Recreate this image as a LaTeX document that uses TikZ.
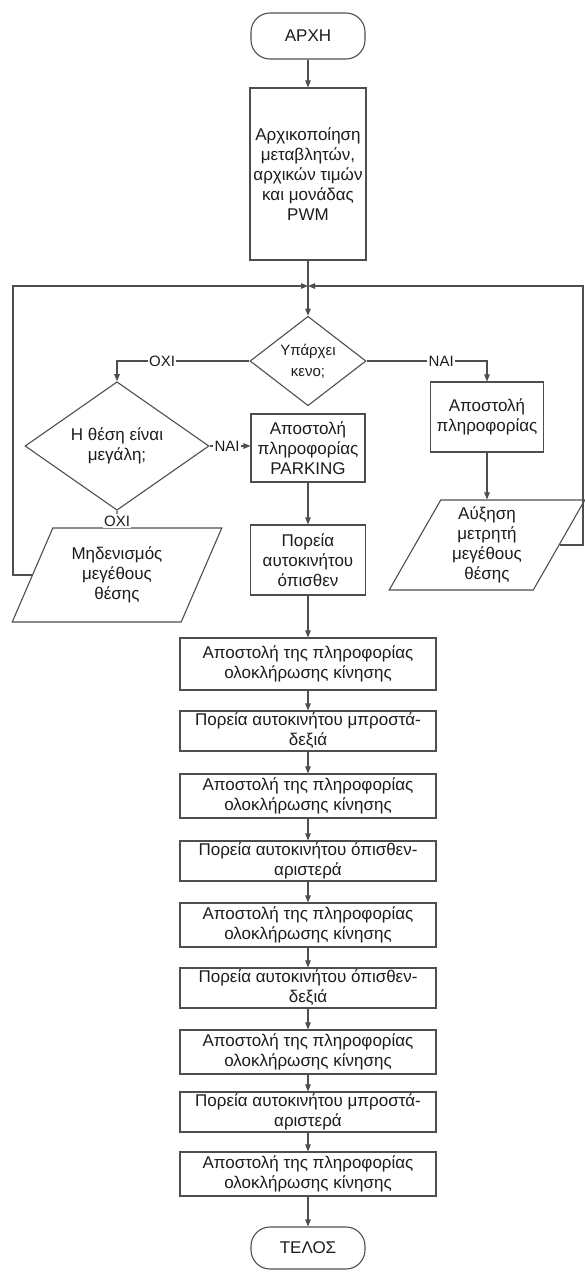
\documentclass[tikz,border=0pt]{standalone}
\usepackage{fontspec}
\setmainfont{Liberation Sans}
\usepackage{xcolor}
\usepackage{tikz}
\usetikzlibrary{arrows.meta,shapes.geometric}
\definecolor{fcline}{HTML}{4E4E4E}
\definecolor{fctext}{HTML}{1C1C1C}
\newcommand{\donetxt}{Αποστολή της πληροφορίας\\ολοκλήρωσης κίνησης}

\begin{document}
\begin{tikzpicture}[x=1pt, y=-1pt, line width=1.1pt,
    every node/.style={text=fctext, inner sep=0pt, align=center,
      font=\fontsize{17}{20}\selectfont},
    terminal/.style={draw=fcline, rounded corners=19pt, minimum width=114pt, minimum height=#1pt},
    procbox/.style 2 args={draw=fcline, minimum width=#1pt, minimum height=#2pt},
    decision/.style 2 args={draw=fcline, diamond, minimum width=#1pt, minimum height=#2pt},
    iobox/.style 2 args={draw=fcline, trapezium, trapezium left angle=63,
      trapezium right angle=117, trapezium stretches=true,
      minimum width=#1pt, minimum height=#2pt},
    flow/.style={draw=fcline, -{Triangle[length=7pt, width=5.5pt]}},
    wire/.style={draw=fcline},
    answer/.style={fill=white, inner sep=1.5pt, font=\fontsize{15}{17}\selectfont}]

  \useasboundingbox (0,0) rectangle (585,1272);

  % -- start and set-up ----------------------------------------------------
  \node[terminal=46] (start) at (308,36) {ΑΡΧΗ};
  \node[procbox={116}{172}] (init) at (308,174)
    {Αρχικοποίηση\\μεταβλητών,\\αρχικών τιμών\\και μονάδας\\PWM};
  \coordinate (merge)   at (308,286);
  \coordinate (lcorner) at (13,286);
  \coordinate (rcorner) at (583,286);

  % -- looking for a gap ---------------------------------------------------
  \node[decision={116}{72}, font=\fontsize{15}{21}\selectfont] (gap) at (308,361)
    {Υπάρχει\\κενο;};
  \node[decision={184}{108}] (big) at (117,446) {Η θέση είναι\\μεγάλη;};
  \node[procbox={114}{68}] (park) at (308,448) {Αποστολή\\πληροφορίας\\PARKING};
  \node[procbox={115}{70}] (back) at (308,560) {Πορεία\\αυτοκινήτου\\όπισθεν};
  \node[iobox={210}{94}] (reset) at (117,575) {Μηδενισμός\\μεγέθους\\θέσης};
  \node[procbox={113}{70}] (info) at (487,417) {Αποστολή\\πληροφορίας};
  \node[iobox={196}{90}] (count) at (487,545) {Αύξηση\\μετρητή\\μεγέθους\\θέσης};

  % -- the manoeuvre, one box per step --------------------------------------
  \foreach \nm/\yy/\hh/\txt in {
      done1/664/52/{\donetxt},
      fwdr/731/40/{Πορεία αυτοκινήτου μπροστά-\\δεξιά},
      done2/796/44/{\donetxt},
      backl/861/40/{Πορεία αυτοκινήτου όπισθεν-\\αριστερά},
      done3/925/44/{\donetxt},
      backr/988/40/{Πορεία αυτοκινήτου όπισθεν-\\δεξιά},
      done4/1052/44/{\donetxt},
      fwdl/1112/40/{Πορεία αυτοκινήτου μπροστά-\\αριστερά},
      done5/1174/44/{\donetxt}}{
    \node[procbox={256}{\hh}] (\nm) at (308,\yy) {\txt};}
  \node[terminal=42] (stop) at (308,1248) {ΤΕΛΟΣ};

  % -- connectors -----------------------------------------------------------
  \draw[flow] (start) -- (init);
  \draw[wire] (init) -- (merge);
  \draw[flow] (merge) -- (gap);
  \draw[flow] (gap.west) -| node[answer, pos=0.33] {ΟΧΙ} (big.north);
  \draw[flow] (gap.east) -| node[answer, pos=0.31] {ΝΑΙ} (info.north);
  \draw[flow] (big.east) -- node[answer, pos=0.43] {ΝΑΙ} (park.west |- big.east);
  \draw[flow] (big.south) -- node[answer, pos=0.62] {ΟΧΙ} (reset.north);
  \draw[flow] (park) -- (back);
  \draw[flow] (info) -- (count);
  \draw[flow] (reset.west) -| (lcorner) -- (merge);
  \draw[flow] (count.east) -| (rcorner) -- (merge);
  \foreach \a/\b in {back/done1, done1/fwdr, fwdr/done2, done2/backl, backl/done3,
                     done3/backr, backr/done4, done4/fwdl, fwdl/done5, done5/stop}{
    \draw[flow] (\a) -- (\b);}

\end{tikzpicture}
\end{document}
